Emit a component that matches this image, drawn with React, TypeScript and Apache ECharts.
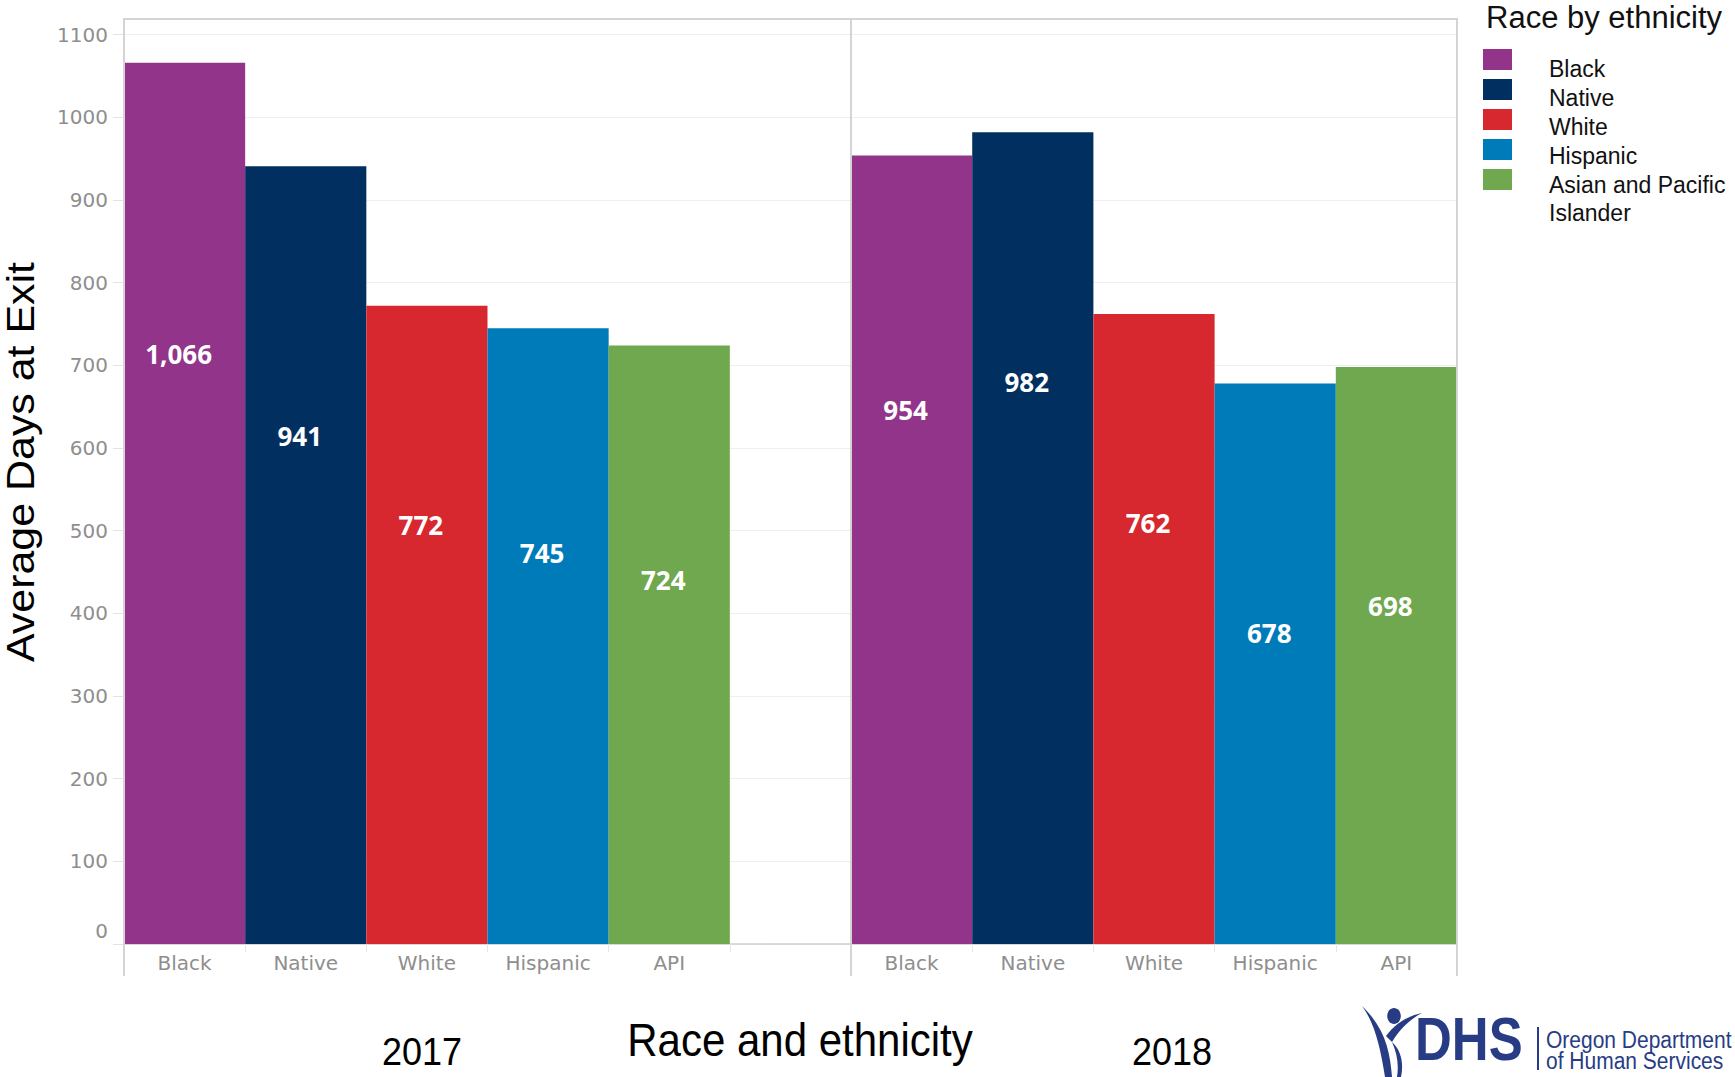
import React, { useEffect, useRef } from 'react';
import * as echarts from 'echarts';

// ---- data ----
const categories = ['Black', 'Native', 'White', 'Hispanic', 'API'];
const years = ['2017', '2018'];
const values2017 = [1066, 941, 772, 745, 724];
const values2018 = [954, 982, 762, 678, 698];
const legendTitle = 'Race by ethnicity';
const legendLabels = ['Black', 'Native', 'White', 'Hispanic', 'Asian and Pacific\nIslander'];
const yAxisTitle = 'Average Days at Exit';
const xAxisTitle = 'Race and ethnicity';

// ---- styles ----
const colors = ['#92348a', '#013060', '#d7282f', '#007bba', '#70a84f'];
// where each value label sits, measured from the top of its bar
const labelPlace2017 = ['33%', '34.7%', '34.3%', '36.5%', '39.2%'];
const labelPlace2018 = ['32.3%', '30.8%', '33.2%', '44.5%', '41.4%'];

const AXIS_FONT = '"DejaVu Sans", sans-serif';
const TITLE_FONT = '"Liberation Sans", Arial, sans-serif';
const AXIS_COLOR = '#8e8e8e';
const LOGO_COLOR = '#283c85';

const figurePath =
  'M7,11 C19,27 25,50 30,82 L37,82 C35,56 30,33 7,11 Z ' +
  'M31,41 C40,29 52,21 67,18 C56,24 46,32 37,47 Z ' +
  'M37,47 C42,58 44,70 42,82 L46,82 C49,68 46,55 37,47 Z';

let registered = false;
function ensureShapes() {
  if (registered) return;
  registered = true;
  echarts.graphic.registerShape('dhsFigure', echarts.graphic.extendPath(figurePath, {}));
}

function makeSeries(values: number[], places: string[], gridIdx: number, name: string) {
  return {
    type: 'bar',
    name,
    xAxisIndex: gridIdx,
    yAxisIndex: gridIdx,
    barCategoryGap: '0%',
    data: values.map((v, i) => ({
      value: v,
      itemStyle: { color: colors[i] },
      label: { position: ['50%', places[i]] },
    })),
    label: {
      show: true,
      align: 'center',
      verticalAlign: 'middle',
      offset: [-6, 0],
      color: '#ffffff',
      fontFamily: '"Open Sans", sans-serif',
      fontWeight: 'bold',
      fontSize: 26,
      formatter: (p: any) => Number(p.value).toLocaleString('en-US'),
    },
  };
}

function xAxisFor(gridIndex: number, data: string[]) {
  return {
    type: 'category',
    gridIndex,
    data,
    axisLine: { show: true, lineStyle: { color: '#d0d0d0', width: 1.5 } },
    axisTick: { show: true, interval: 0, length: 8, lineStyle: { color: '#e6e6e6' } },
    axisLabel: { interval: 0, color: AXIS_COLOR, fontFamily: AXIS_FONT, fontSize: 20, margin: 9 },
  };
}

function yAxisFor(gridIndex: number, showLabels: boolean) {
  return {
    type: 'value',
    gridIndex,
    min: 0,
    max: 1119,
    interval: 100,
    axisLine: { show: false },
    axisTick: { show: showLabels, length: 11, lineStyle: { color: '#e3e3e3' } },
    splitLine: { show: true, lineStyle: { color: '#efefef', width: 1.2 } },
    axisLabel: {
      show: showLabels,
      showMaxLabel: false,
      margin: 16,
      color: AXIS_COLOR,
      fontFamily: AXIS_FONT,
      fontSize: 20,
      formatter: (v: number) => (v % 100 !== 0 ? '' : v === 0 ? '{z|0}' : String(v)),
      rich: {
        z: { padding: [0, 0, 26, 0], color: AXIS_COLOR, fontFamily: AXIS_FONT, fontSize: 20 },
      },
    },
  };
}

export default function App() {
  const ref = useRef<HTMLDivElement>(null);

  useEffect(() => {
    if (!ref.current) return;
    ensureShapes();
    const chart = echarts.init(ref.current, undefined, { renderer: 'svg' });

    const frame = { stroke: '#d4d4d4', lineWidth: 2 };
    const legendItems: any[] = [];
    legendLabels.forEach((lab, i) => {
      legendItems.push({
        type: 'rect',
        shape: { x: 1483, y: 49 + 30 * i, width: 29, height: 21 },
        style: { fill: colors[i] },
      });
      legendItems.push({
        type: 'text',
        x: 1549,
        y: 77 + 29 * i - 22,
        style: {
          text: lab,
          fontFamily: TITLE_FONT,
          fontSize: 23,
          lineHeight: 28,
          fill: '#111',
          align: 'left',
          verticalAlign: 'top',
        },
      });
    });

    chart.setOption({
      animation: false,
      backgroundColor: '#ffffff',
      grid: [
        { left: 124, top: 19, width: 727, height: 925 },
        { left: 851, top: 19, width: 606, height: 925 },
      ],
      xAxis: [xAxisFor(0, [...categories, '']), xAxisFor(1, categories)],
      yAxis: [yAxisFor(0, true), yAxisFor(1, false)],
      series: [
        makeSeries(values2017, labelPlace2017, 0, years[0]),
        makeSeries(values2018, labelPlace2018, 1, years[1]),
      ],
      graphic: [
        // frame
        { type: 'line', z: 50, shape: { x1: 123, y1: 19, x2: 1458, y2: 19 }, style: frame },
        { type: 'line', z: 50, shape: { x1: 124, y1: 19, x2: 124, y2: 976 }, style: frame },
        { type: 'line', z: 50, shape: { x1: 851, y1: 19, x2: 851, y2: 976 }, style: frame },
        { type: 'line', z: 50, shape: { x1: 1457, y1: 19, x2: 1457, y2: 976 }, style: frame },
        // titles
        {
          type: 'text',
          x: 21,
          y: 462,
          rotation: Math.PI / 2,
          scaleX: 1.13,
          style: {
            text: yAxisTitle,
            fontFamily: TITLE_FONT,
            fontSize: 38,
            fill: '#000',
            align: 'center',
            verticalAlign: 'middle',
          },
        },
        {
          type: 'text',
          x: 800,
          y: 1040,
          scaleY: 1.09,
          style: {
            text: xAxisTitle,
            fontFamily: TITLE_FONT,
            fontSize: 42,
            fill: '#000',
            align: 'center',
            verticalAlign: 'middle',
          },
        },
        {
          type: 'text',
          x: 422,
          y: 1051,
          scaleY: 1.1,
          style: { text: years[0], fontFamily: TITLE_FONT, fontSize: 36, fill: '#000', align: 'center', verticalAlign: 'middle' },
        },
        {
          type: 'text',
          x: 1172,
          y: 1051,
          scaleY: 1.1,
          style: { text: years[1], fontFamily: TITLE_FONT, fontSize: 36, fill: '#000', align: 'center', verticalAlign: 'middle' },
        },
        // legend
        {
          type: 'text',
          x: 1486,
          y: 17.6,
          style: { text: legendTitle, fontFamily: TITLE_FONT, fontSize: 31, fill: '#111', align: 'left', verticalAlign: 'middle' },
        },
        ...legendItems,
        // DHS logo
        { type: 'dhsFigure', x: 1355, y: 995, style: { fill: LOGO_COLOR } },
        { type: 'ellipse', shape: { cx: 1394, cy: 1016, rx: 6.8, ry: 8 }, style: { fill: LOGO_COLOR } },
        {
          type: 'text',
          x: 1415,
          y: 1070,
          scaleY: 1.18,
          style: { text: 'DHS', fontFamily: TITLE_FONT, fontWeight: 'bold', fontSize: 51, fill: LOGO_COLOR, align: 'left', verticalAlign: 'bottom' },
        },
        { type: 'rect', shape: { x: 1537, y: 1027, width: 2, height: 43 }, style: { fill: LOGO_COLOR } },
        {
          type: 'text',
          x: 1546,
          y: 1040,
          scaleY: 1.12,
          style: { text: 'Oregon Department', fontFamily: TITLE_FONT, fontSize: 21, fill: LOGO_COLOR, align: 'left', verticalAlign: 'middle' },
        },
        {
          type: 'text',
          x: 1546,
          y: 1061,
          scaleY: 1.12,
          style: { text: 'of Human Services', fontFamily: TITLE_FONT, fontSize: 21, fill: LOGO_COLOR, align: 'left', verticalAlign: 'middle' },
        },
      ],
    });

    return () => chart.dispose();
  }, []);

  return (
    <div
      ref={ref}
      style={{ position: 'fixed', left: 0, top: 0, width: 1735, height: 1077, background: '#fff' }}
    />
  );
}
